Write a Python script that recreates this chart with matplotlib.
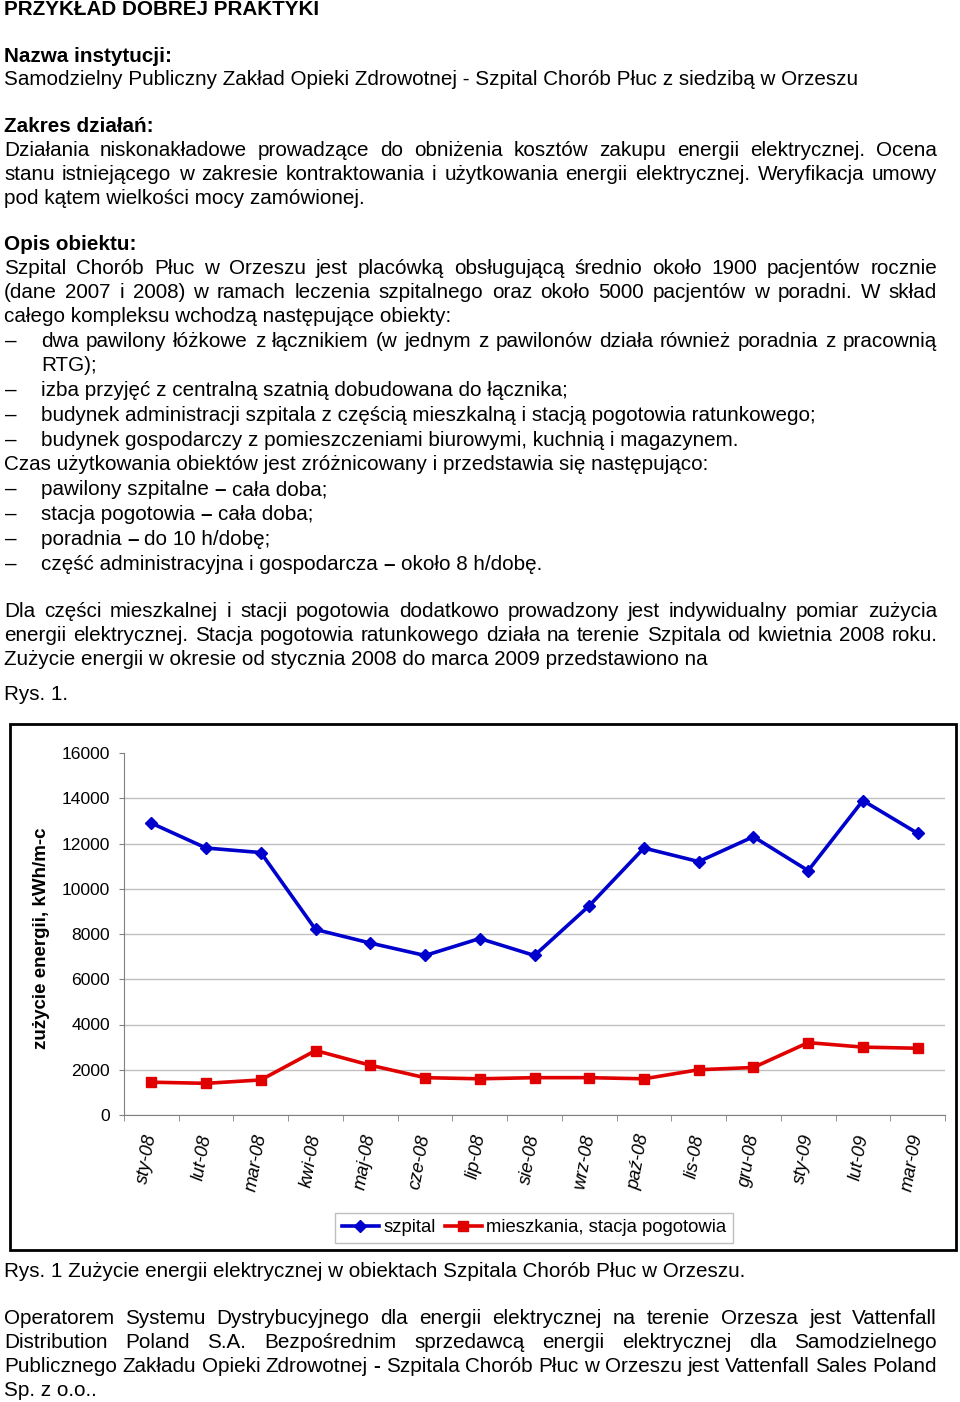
import matplotlib
matplotlib.use("Agg")
import matplotlib.pyplot as plt
from matplotlib.patches import Rectangle
from matplotlib.lines import Line2D

W, H = 960, 1402

# ---------------- data ----------------
months = ["sty-08", "lut-08", "mar-08", "kwi-08", "maj-08", "cze-08", "lip-08",
          "sie-08", "wrz-08", "paź-08", "lis-08", "gru-08", "sty-09", "lut-09", "mar-09"]
szpital = [12900, 11800, 11600, 8200, 7600, 7050, 7800, 7050, 9250, 11800,
           11200, 12300, 10800, 13900, 12450]
mieszkania = [1450, 1400, 1550, 2850, 2200, 1650, 1600, 1650, 1650, 1600,
              2000, 2100, 3200, 3000, 2950]
yticks = [0, 2000, 4000, 6000, 8000, 10000, 12000, 14000, 16000]
series_names = ["szpital", "mieszkania, stacja pogotowia"]
ylabel = "zużycie energii, kWh/m-c"

# ---------------- text ----------------
# (baseline_y, x_left, text, style)  style: 'b' bold, 'j' justified, 'n' normal
lines = [
    (15, 4, "PRZYKŁAD DOBREJ PRAKTYKI", "b"),
    (62, 4, "Nazwa instytucji:", "b"),
    (85, 4, "Samodzielny Publiczny Zakład Opieki Zdrowotnej - Szpital Chorób Płuc z siedzibą w Orzeszu", "n"),
    (132, 4, "Zakres działań:", "b"),
    (156, 4, "Działania niskonakładowe prowadzące do obniżenia kosztów zakupu energii elektrycznej. Ocena", "j"),
    (180, 4, "stanu istniejącego w zakresie kontraktowania i użytkowania energii elektrycznej. Weryfikacja umowy", "j"),
    (204, 4, "pod kątem wielkości mocy zamówionej.", "n"),
    (250, 4, "Opis obiektu:", "b"),
    (274, 4, "Szpital Chorób Płuc w Orzeszu jest placówką obsługującą średnio około 1900 pacjentów rocznie", "j"),
    (298, 4, "(dane 2007 i 2008) w ramach leczenia szpitalnego oraz około 5000 pacjentów w poradni. W skład", "j"),
    (322, 4, "całego kompleksu wchodzą następujące obiekty:", "n"),
    (347, 41, "dwa pawilony łóżkowe z łącznikiem (w jednym z pawilonów działa również poradnia z pracownią", "j"),
    (371, 41, "RTG);", "n"),
    (396, 41, "izba przyjęć z centralną szatnią dobudowana do łącznika;", "n"),
    (421, 41, "budynek administracji szpitala z częścią mieszkalną i stacją pogotowia ratunkowego;", "n"),
    (446, 41, "budynek gospodarczy z pomieszczeniami biurowymi, kuchnią i magazynem.", "n"),
    (470, 4, "Czas użytkowania obiektów jest zróżnicowany i przedstawia się następująco:", "n"),
    (495, 41, "pawilony szpitalne – cała doba;", "n"),
    (520, 41, "stacja pogotowia – cała doba;", "n"),
    (545, 41, "poradnia – do 10 h/dobę;", "n"),
    (570, 41, "część administracyjna i gospodarcza – około 8 h/dobę.", "n"),
    (617, 4, "Dla części mieszkalnej i stacji pogotowia dodatkowo prowadzony jest indywidualny pomiar zużycia", "j"),
    (641, 4, "energii elektrycznej. Stacja pogotowia ratunkowego działa na terenie Szpitala od kwietnia 2008 roku.", "j"),
    (665, 4, "Zużycie energii w okresie od stycznia 2008 do marca 2009 przedstawiono na", "n"),
    (700, 4, "Rys. 1.", "n"),
    (1277, 4, "Rys. 1 Zużycie energii elektrycznej w obiektach Szpitala Chorób Płuc w Orzeszu.", "n"),
    (1324, 4, "Operatorem Systemu Dystrybucyjnego dla energii elektrycznej na terenie Orzesza jest Vattenfall", "j"),
    (1348, 4, "Distribution Poland S.A. Bezpośrednim sprzedawcą energii elektrycznej dla Samodzielnego", "j"),
    (1372, 4, "Publicznego Zakładu Opieki Zdrowotnej - Szpitala Chorób Płuc w Orzeszu jest Vattenfall Sales Poland", "j"),
    (1396, 4, "Sp. z o.o..", "n"),
]
bullet_rows = [347, 396, 421, 446, 495, 520, 545, 570]

FONT = "Liberation Sans"
RIGHT = 937

fig = plt.figure(figsize=(W / 100, H / 100), dpi=100)
renderer = fig.canvas.get_renderer()


def fx(x):
    return x / W


def fy(y):
    return 1 - y / H


def measure(s, fs, weight="normal"):
    t = fig.text(0, 0, s, fontsize=fs, family=FONT, weight=weight)
    w = t.get_window_extent(renderer).width
    t.remove()
    return w


ref = "Samodzielny Publiczny Zakład Opieki Zdrowotnej - Szpital Chorób Płuc z siedzibą w Orzeszu"
fs = 13.0 * 851 / measure(ref, 13.0)


def put(x, yb, s, weight="normal"):
    fig.text(fx(x), fy(yb), s, fontsize=fs, family=FONT, weight=weight,
             ha="left", va="baseline")


for yb, x0, s, style in lines:
    if style == "b":
        put(x0, yb, s, "bold")
    elif style == "n":
        if " – " in s:
            left, right = s.split(" – ", 1)
            put(x0, yb, left + " ")
            x1 = x0 + measure(left + " x", fs) - measure("x", fs)
            put(x1, yb, "–", "bold")
            x2 = x1 + measure("– x", fs, "bold") - measure("x", fs, "bold")
            put(x2, yb, right)
        else:
            put(x0, yb, s)
    else:
        words = s.split(" ")
        widths = [measure(w_, fs) for w_ in words]
        gap = (RIGHT - x0 - sum(widths)) / (len(words) - 1)
        x = x0
        for w_, wd in zip(words, widths):
            put(x, yb, w_, "bold" if w_ == "-" else "normal")
            x += wd + gap

for yb in bullet_rows:
    put(5, yb, "–")

# ---------------- chart ----------------
fig.add_artist(Rectangle((fx(10), fy(1250)), (956 - 10) / W, (1250 - 724) / H,
                         transform=fig.transFigure, fill=False, edgecolor="black", lw=2))

ax = fig.add_axes([fx(124), fy(1115), (945 - 124) / W, (1115 - 753) / H])
x = list(range(len(months)))
blue = "#0000cc"
red = "#e00000"
ax.plot(x, szpital, color=blue, lw=2.6, marker="D", ms=6.5, label=series_names[0], zorder=3)
ax.plot(x, mieszkania, color=red, lw=2.6, marker="s", ms=6.5, label=series_names[1], zorder=3)
ax.set_xlim(-0.5, len(months) - 0.5)
ax.set_ylim(0, 16000)
ax.set_yticks(yticks)
ax.set_yticklabels([str(v) for v in yticks], fontsize=12.6, family=FONT)
ax.set_xticks(x)
ax.set_xticklabels(months, fontsize=13.3, family=FONT, style="italic",
                   rotation=80, ha="right", va="center", rotation_mode="anchor")
ax.set_xticks([i - 0.5 for i in range(len(months) + 1)], minor=True)
ax.tick_params(axis="x", which="major", length=0, pad=14)
ax.tick_params(axis="x", which="minor", length=4, color="#808080")
ax.tick_params(axis="y", length=3.6, color="#808080", pad=6.5)
for sp in ["top", "right"]:
    ax.spines[sp].set_visible(False)
for sp in ["left", "bottom"]:
    ax.spines[sp].set_color("#808080")
ax.yaxis.grid(True, color="#c0c0c0", lw=1)
ax.set_axisbelow(True)
ax.yaxis.get_gridlines()[-1].set_visible(False)
ax.patch.set_alpha(0)

fig.text(fx(42), fy(938), ylabel, rotation=90, fontsize=13.5, family=FONT,
         weight="bold", ha="center", va="center")

handles = [Line2D([], [], color=blue, lw=2.6, marker="D", ms=6.5),
           Line2D([], [], color=red, lw=2.6, marker="s", ms=6.5)]
leg = fig.legend(handles, series_names, loc="center", bbox_to_anchor=(fx(534), fy(1228)),
                 ncol=2, frameon=True, fancybox=False, edgecolor="#b0b0b0",
                 prop={"family": FONT, "size": 13.3}, handlelength=2.0,
                 handletextpad=0.25, columnspacing=0.5, borderpad=0.35)
leg.get_frame().set_linewidth(1)

fig.savefig("out.png", dpi=100)
